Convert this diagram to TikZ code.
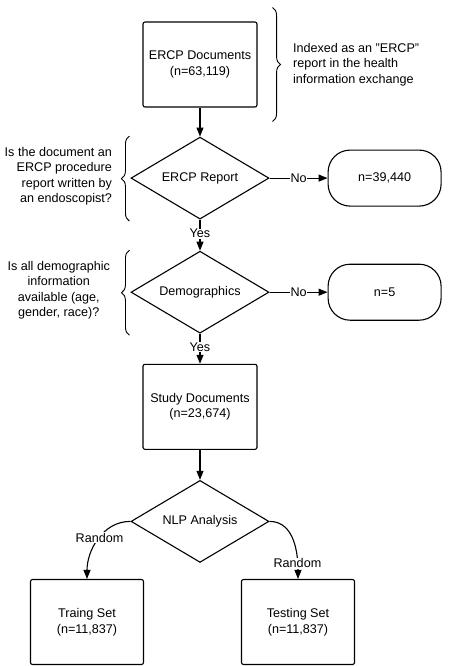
\documentclass[tikz,border=0pt]{standalone}
\usepackage{fontspec}
\setmainfont{Liberation Sans}
\usetikzlibrary{
  arrows.meta,
  calc,
  decorations.pathreplacing,
  positioning,
  shapes.geometric,
}
\tikzset{
  >={Triangle[length=9pt,width=7pt]},
  box/.style={draw, line width=1.1pt, rounded corners=2pt, minimum width=114pt, minimum height=85pt, align=center},
  decision/.style={draw, diamond, line width=1.1pt, minimum width=138pt, minimum height=82pt, inner sep=0pt, aspect=1.68},
  outcome/.style={draw, line width=1.1pt, rounded corners=22pt, minimum width=113pt, minimum height=56pt},
  note/.style={inner sep=0pt},
  tag/.style={fill=white, inner sep=0.6pt},
  curly/.style={decorate, decoration={brace, amplitude=8pt}, line width=0.9pt},
}

\begin{document}
\begin{tikzpicture}[every node/.style={font=\fontsize{12.6}{15.5}\selectfont}, node distance=30pt, line width=1.1pt]
      \useasboundingbox (0,0) rectangle (448pt,-666pt);

      \node [box] (docs) at (200pt,-64.5pt) {ERCP Documents\\(n=63,119)};
      \node [decision, below=29pt of docs] (report) {ERCP Report};
      \node [decision, below=31pt of report] (demo) {Demographics};
      \node [box, below=of demo] (study) {Study Documents\\(n=23,674)};
      \node [decision, below=of study] (nlp) {NLP Analysis};
      \node [box, minimum width=113pt, below=16pt of nlp, xshift=-113pt] (train) {Traing Set\\(n=11,837)};
      \node [box, minimum width=113pt, below=16pt of nlp, xshift=98pt] (test) {Testing Set\\(n=11,837)};

      \node [outcome, right=58pt of report] (drop) {n=39,440};
      \node [outcome, right=58pt of demo] (miss) {n=5};

      \node [note, align=left, right=35pt of docs] (docsnote) {Indexed as an "ERCP"\\report in the health\\information exchange};
      \node [note, align=right, left=18pt of report, yshift=2pt] (reportnote) {Is the document an\\ERCP procedure\\report written by\\an endoscopist?};
      \node [note, align=center, left=20pt of demo, yshift=2pt] (demonote) {Is all demographic\\information\\available (age,\\gender, race)?};

      \draw [curly] ($(docs.north east)+(15pt,14pt)$) -- ($(docs.south east)+(15pt,-14pt)$);
      \draw [curly] ($(report.west)+(-1pt,-43pt)$) -- ($(report.west)+(-1pt,42pt)$);
      \draw [curly] ($(demo.west)+(-1pt,-43pt)$) -- ($(demo.west)+(-1pt,42pt)$);

      \draw [->] (docs) -- (report);
      \draw [->] (report) -- node [tag] {No} (drop);
      \draw [->] (report) -- node [tag, pos=0.45] {Yes} (demo);
      \draw [->] (demo) -- node [tag] {No} (miss);
      \draw [->] (demo) -- node [tag, pos=0.45] {Yes} (study);
      \draw [->] (study) -- (nlp);
      \draw [->] (nlp.west) to [out=180, in=90] node [tag, pos=0.47] {Random} (train.north);
      \draw [->] (nlp.east) to [out=0, in=90] node [tag, pos=0.8] {Random} (test.north);
    \end{tikzpicture}
\end{document}
